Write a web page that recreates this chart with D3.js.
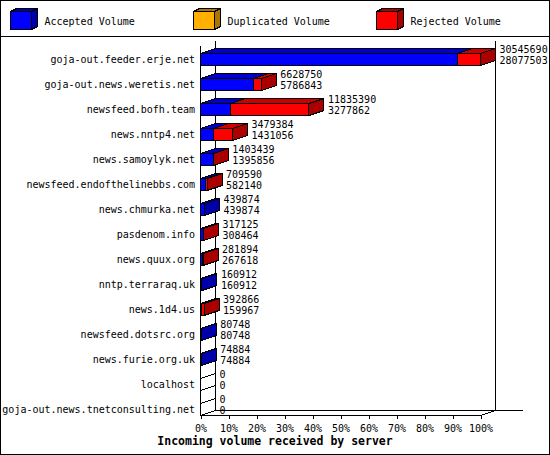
<!DOCTYPE html>
<html><head><meta charset="utf-8">
<script src="https://cdn.jsdelivr.net/npm/d3@7"></script>
<style>
html,body{margin:0;padding:0;background:#fff;}
svg{display:block;}
text{font-family:"DejaVu Sans Mono",monospace;}
</style></head>
<body>
<svg id="chart" width="550" height="455"></svg>
<script>
const categories = [
  "goja-out.feeder.erje.net","goja-out.news.weretis.net","newsfeed.bofh.team",
  "news.nntp4.net","news.samoylyk.net","newsfeed.endofthelinebbs.com",
  "news.chmurka.net","pasdenom.info","news.quux.org","nntp.terraraq.uk",
  "news.1d4.us","newsfeed.dotsrc.org","news.furie.org.uk","localhost",
  "goja-out.news.tnetconsulting.net"
];
const acceptedVolume   = [28077503,5786843,3277862,1431056,1395856,582140,439874,308464,267618,160912,159967,80748,74884,0,0];
const duplicatedVolume = [0,0,0,0,0,0,0,0,0,0,0,0,0,0,0];
const rejectedVolume   = [2468187,841907,8557528,2048328,7583,127450,0,8661,14276,0,232899,0,0,0,0];
const seriesNames  = ["Accepted Volume","Duplicated Volume","Rejected Volume"];
const seriesColors = ["#0000ff","#ffb000","#ff0000"];
const seriesTop    = ["#0000cc","#cc8d00","#cc0000"];
const seriesSide   = ["#0000aa","#aa7500","#aa0000"];
const tickValues = [0,0.1,0.2,0.3,0.4,0.5,0.6,0.7,0.8,0.9,1.0];
const tickLabels = ["0%","10%","20%","30%","40%","50%","60%","70%","80%","90%","100%"];
const axisTitle = "Incoming volume received by server";

const series = [acceptedVolume, duplicatedVolume, rejectedVolume];
const totals = categories.map((c,i)=>series.reduce((s,a)=>s+a[i],0));
const maxTotal = d3.max(totals);

const svg = d3.select("#chart");
const DX = 15, DY = 5;
const x = d3.scaleLinear().domain([0,1]).range([200,480]);
const y = d3.scaleBand().domain(categories).range([40,415]).paddingInner(0).paddingOuter(0);

// border + legend separator
svg.append("rect").attr("x",0.5).attr("y",0.5).attr("width",549).attr("height",454)
  .attr("fill","#fff").attr("stroke","#000").attr("shape-rendering","crispEdges");
svg.append("line").attr("x1",0).attr("x2",550).attr("y1",36.5).attr("y2",36.5)
  .attr("stroke","#000").attr("shape-rendering","crispEdges");

// legend
const legendX = [10.5,193.5,376.5];
seriesNames.forEach((n,i)=>{
  const g = svg.append("g").attr("shape-rendering","crispEdges");
  const x0 = legendX[i], y0 = 11.5, w = 21, h = 18, dx = 6, dy = 3;
  g.append("rect").attr("x",x0).attr("y",y0).attr("width",w).attr("height",h)
    .attr("fill",seriesColors[i]).attr("stroke","#000");
  g.append("polygon").attr("points",[[x0,y0],[x0+dx,y0-dy],[x0+w+dx,y0-dy],[x0+w,y0]].join(" "))
    .attr("fill",seriesSide[i]).attr("stroke","#000");
  g.append("polygon").attr("points",[[x0+w,y0],[x0+w+dx,y0-dy],[x0+w+dx,y0+h-dy],[x0+w,y0+h]].join(" "))
    .attr("fill",seriesSide[i]).attr("stroke","#000");
  svg.append("text").attr("x",x0+34).attr("y",25).attr("font-size","10px").text(n);
});

// walls / floor
const lines = [
  [215,40,215,410],[495,40,495,410],[215,410,522,410],
  [200,45,200,415],[200,415,480,415],[200,415,215,410],[480,415,495,410]
];
svg.append("g").selectAll("line").data(lines).join("line")
  .attr("x1",d=>d[0]+0.5).attr("y1",d=>d[1]+0.5).attr("x2",d=>d[2]+0.5).attr("y2",d=>d[3]+0.5)
  .attr("stroke","#000").attr("shape-rendering","crispEdges");

// bars
function box(g,x0,x1,yt,yb,front,top,side){
  g.append("rect").attr("x",x0).attr("y",yt).attr("width",Math.max(0,x1-x0)).attr("height",yb-yt)
    .attr("fill",front).attr("stroke","#000");
  g.append("polygon").attr("points",[[x0,yt],[x0+DX,yt-DY],[x1+DX,yt-DY],[x1,yt]].join(" "))
    .attr("fill",top).attr("stroke","#000");
  g.append("polygon").attr("points",[[x1,yt],[x1+DX,yt-DY],[x1+DX,yb-DY],[x1,yb]].join(" "))
    .attr("fill",side).attr("stroke","#000");
}
const barsG = svg.append("g").attr("shape-rendering","crispEdges");
categories.forEach((c,i)=>{
  const yt = y(c)+13.5, yb = y(c)+25.5;
  if (totals[i] === 0) {
    box(barsG, x(0)+0.5, x(0)+0.5, yt, yb, "none","none","none");
  } else {
    let acc = 0;
    series.forEach((s,k)=>{
      if (s[i] <= 0) return;
      const x0 = x(acc/maxTotal)+0.5, x1 = x((acc+s[i])/maxTotal)+0.5;
      box(barsG, x0, x1, yt, yb, seriesColors[k], seriesTop[k], seriesSide[k]);
      acc += s[i];
    });
  }
  const xe = x(totals[i]/maxTotal) + 19.5;
  svg.append("text").attr("x",xe).attr("y",y(c)+13).attr("font-size","10px").text(totals[i]);
  svg.append("text").attr("x",xe).attr("y",y(c)+24).attr("font-size","10px").text(acceptedVolume[i]);
});

// category labels
svg.append("g").selectAll("text").data(categories).join("text")
  .attr("x",195).attr("y",d=>y(d)+22.5).attr("text-anchor","end")
  .attr("font-size","10px").text(d=>d);

// x axis
const axis = d3.axisBottom(x).tickValues(tickValues)
  .tickFormat((d,i)=>tickLabels[i]).tickSize(3).tickPadding(6);
const ax = svg.append("g").attr("transform","translate(0.5,415.5)").call(axis);
ax.select(".domain").remove();
ax.selectAll("line").attr("shape-rendering","crispEdges");
ax.selectAll("text").attr("font-family","DejaVu Sans Mono").attr("font-size","10px").attr("fill","#000");

svg.append("text").attr("x",275).attr("y",445).attr("text-anchor","middle")
  .attr("font-size","11.5px").attr("font-weight","bold").text(axisTitle);
</script>
</body></html>
